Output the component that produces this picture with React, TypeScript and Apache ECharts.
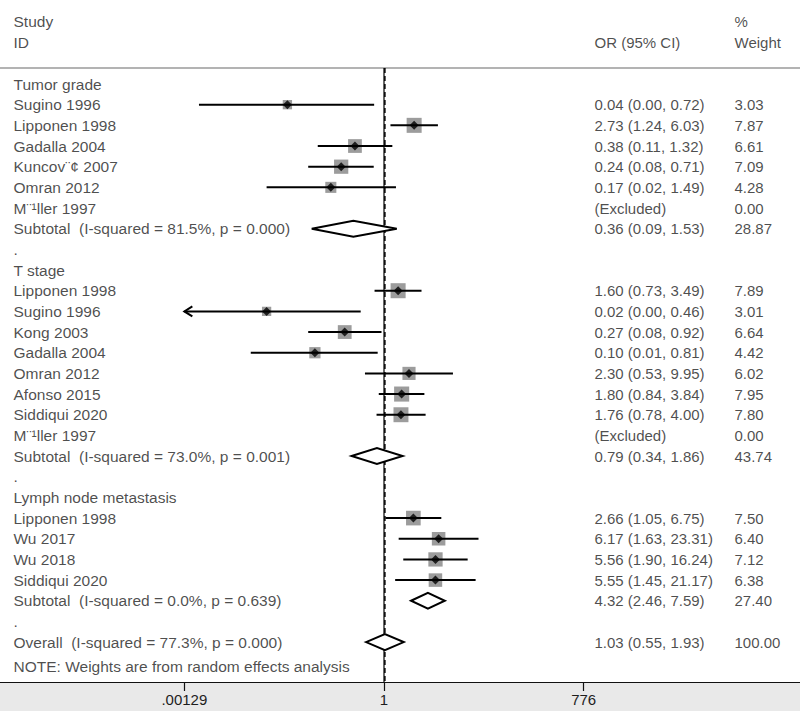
import React, { useEffect, useRef } from "react";
import * as echarts from "echarts";

// ---------- data ----------
const rowLabels: string[] = [
  "Tumor grade",
  "Sugino 1996",
  "Lipponen 1998",
  "Gadalla 2004",
  "Kuncov¨¢ 2007",
  "Omran 2012",
  "M¨¹ller 1997",
  "Subtotal  (I-squared = 81.5%, p = 0.000)",
  ".",
  "T stage",
  "Lipponen 1998",
  "Sugino 1996",
  "Kong 2003",
  "Gadalla 2004",
  "Omran 2012",
  "Afonso 2015",
  "Siddiqui 2020",
  "M¨¹ller 1997",
  "Subtotal  (I-squared = 73.0%, p = 0.001)",
  ".",
  "Lymph node metastasis",
  "Lipponen 1998",
  "Wu 2017",
  "Wu 2018",
  "Siddiqui 2020",
  "Subtotal  (I-squared = 0.0%, p = 0.639)",
  ".",
  "Overall  (I-squared = 77.3%, p = 0.000)",
];
const rowKinds: string[] = [
  "group", "study", "study", "study", "study", "study", "excluded", "pooled", "blank",
  "group", "study", "study", "study", "study", "study", "study", "study", "excluded", "pooled", "blank",
  "group", "study", "study", "study", "study", "pooled", "blank",
  "pooled",
];
const rowOR: (number | null)[] = [
  null, 0.04, 2.73, 0.38, 0.24, 0.17, null, 0.36, null,
  null, 1.6, 0.02, 0.27, 0.1, 2.3, 1.8, 1.76, null, 0.79, null,
  null, 2.66, 6.17, 5.56, 5.55, 4.32, null,
  1.03,
];
const rowLower: (number | null)[] = [
  null, 0.0021, 1.24, 0.11, 0.08, 0.02, null, 0.09, null,
  null, 0.73, 0.0004, 0.08, 0.0118, 0.53, 0.84, 0.78, null, 0.34, null,
  null, 1.05, 1.63, 1.9, 1.45, 2.46, null,
  0.55,
];
const rowUpper: (number | null)[] = [
  null, 0.72, 6.03, 1.32, 0.71, 1.49, null, 1.53, null,
  null, 3.49, 0.46, 0.92, 0.81, 9.95, 3.84, 4.0, null, 1.86, null,
  null, 6.75, 23.31, 16.24, 21.17, 7.59, null,
  1.93,
];
const rowWeight: (number | null)[] = [
  null, 3.03, 7.87, 6.61, 7.09, 4.28, 0.0, 28.87, null,
  null, 7.89, 3.01, 6.64, 4.42, 6.02, 7.95, 7.8, 0.0, 43.74, null,
  null, 7.5, 6.4, 7.12, 6.38, 27.4, null,
  100.0,
];
const overallOR = 1.03;
const tickValues = [0.00129, 1, 776];
const tickLabels = [".00129", "1", "776"];
const headerLeft = ["Study", "ID"];
const headerOR = ["", "OR (95% CI)"];
const headerWeight = ["%", "Weight"];
const noteText = "NOTE: Weights are from random effects analysis";

// ---------- layout ----------
const X_MIN = -5.557;
const X_MAX = 6.02;
const Y_MIN = -4.064;
const Y_MAX = 28.93;
const RULE_ROW = -0.774;
const HEADER_ROWS = [-3, -2];
const NOTE_ROW = 28.16;
const COL_LEFT = 13;
const COL_OR = 594;
const COL_WT = 734;
const FONT = "'Liberation Sans', Arial, Helvetica, sans-serif";
const FS_LEFT = 15.5;
const FS_RIGHT = 15;
const TXT = "#1e1e1e";

const lg = (v: number) => Math.log10(v);
const AX_LO = lg(Math.min(...tickValues));
const AX_HI = lg(Math.max(...tickValues));

export default function App() {
  const ref = useRef<HTMLDivElement>(null);
  useEffect(() => {
    if (!ref.current) return;
    const chart = echarts.init(ref.current, undefined, { renderer: "svg" });

    const squares: any[] = [];
    const points: any[] = [];
    const cis: any[] = [];
    const pooled: any[] = [];
    const texts: any[] = [];

    const addText = (x: number, row: number, s: string) => {
      const fs = x === COL_LEFT ? FS_LEFT : FS_RIGHT;
      texts.push({
        value: [x, row],
        label: { formatter: () => s.replace(/ {2}/g, " \u00a0"), fontSize: fs },
      });
    };

    HEADER_ROWS.forEach((r, i) => {
      addText(COL_LEFT, r, headerLeft[i]);
      if (headerOR[i]) addText(COL_OR, r, headerOR[i]);
      addText(COL_WT, r, headerWeight[i]);
    });
    addText(COL_LEFT, NOTE_ROW, noteText);

    rowLabels.forEach((lab, r) => {
      addText(COL_LEFT, r, lab);
      const k = rowKinds[r];
      const or = rowOR[r];
      const lo = rowLower[r];
      const hi = rowUpper[r];
      const w = rowWeight[r];
      if (k === "excluded") {
        addText(COL_OR, r, "(Excluded)");
        addText(COL_WT, r, (w as number).toFixed(2));
      }
      if ((k === "study" || k === "pooled") && or != null && lo != null && hi != null && w != null) {
        addText(COL_OR, r, `${or.toFixed(2)} (${lo.toFixed(2)}, ${hi.toFixed(2)})`);
        addText(COL_WT, r, w.toFixed(2));
        if (k === "study") {
          squares.push([lg(or), r, w]);
          points.push([lg(or), r]);
          cis.push([lg(lo), lg(hi), r]);
        } else {
          pooled.push([lg(lo), lg(or), lg(hi), r]);
        }
      }
    });

    const option: any = {
      animation: false,
      backgroundColor: "#e9e9e9",
      grid: {
        left: 0,
        right: 0,
        top: 0,
        bottom: 29,
        show: true,
        backgroundColor: "#ffffff",
        borderWidth: 0,
        containLabel: false,
        outerBoundsMode: "none",
      },
      xAxis: [
        {
          type: "value",
          position: "bottom",
          min: X_MIN,
          max: X_MAX,
          axisLine: { show: true, onZero: false, lineStyle: { color: "#111", width: 1.2 } },
          axisTick: {
            show: true,
            customValues: tickValues.map(lg),
            length: 9,
            lineStyle: { color: "#111", width: 1.2 },
          },
          axisLabel: {
            show: true,
            customValues: tickValues.map(lg),
            margin: 10,
            fontSize: FS_RIGHT,
            fontFamily: FONT,
            color: TXT,
            formatter: (v: number) => {
              const i = tickValues.findIndex((t) => Math.abs(lg(t) - v) < 1e-6);
              return i >= 0 ? tickLabels[i] : "";
            },
          },
          splitLine: { show: false },
        },
        {
          type: "value",
          position: "top",
          min: 0,
          max: 800,
          show: false,
        },
      ],
      yAxis: {
        type: "value",
        inverse: true,
        min: Y_MIN,
        max: Y_MAX,
        show: false,
      },
      series: [
        {
          type: "line",
          data: [[X_MIN, RULE_ROW], [X_MAX, RULE_ROW]],
          symbol: "none",
          silent: true,
          lineStyle: { color: "#9a9a9a", width: 1.5 },
        },
        {
          type: "line",
          data: [[0, RULE_ROW], [0, Y_MAX]],
          symbol: "none",
          silent: true,
          lineStyle: { color: "#000", width: 1.2 },
        },
        {
          type: "line",
          data: [[lg(overallOR), RULE_ROW], [lg(overallOR), Y_MAX]],
          symbol: "none",
          silent: true,
          lineStyle: { color: "#000", width: 1.5, type: [5, 3] },
        },
        {
          type: "scatter",
          data: squares,
          symbol: "rect",
          symbolSize: (v: number[]) => 5.35 * Math.sqrt(v[2]),
          itemStyle: { color: "#9c9c9c", opacity: 1 },
          silent: true,
          z: 3,
        },
        {
          type: "custom",
          data: cis,
          clip: false,
          silent: true,
          encode: { x: [0, 1], y: 2 },
          z: 4,
          renderItem: (params: any, api: any) => {
            const lo = api.value(0);
            const hi = api.value(1);
            const row = api.value(2);
            const p1 = api.coord([Math.max(lo, AX_LO), row]);
            const p2 = api.coord([Math.min(hi, AX_HI), row]);
            const children: any[] = [
              {
                type: "line",
                shape: { x1: p1[0], y1: p1[1], x2: p2[0], y2: p2[1] },
                style: { stroke: "#000", lineWidth: 2 },
              },
            ];
            if (lo < AX_LO) {
              children.push({
                type: "polyline",
                shape: { points: [[p1[0] + 8, p1[1] - 5], [p1[0], p1[1]], [p1[0] + 8, p1[1] + 5]] },
                style: { stroke: "#000", lineWidth: 2, fill: "none" },
              });
            }
            if (hi > AX_HI) {
              children.push({
                type: "polyline",
                shape: { points: [[p2[0] - 8, p2[1] - 5], [p2[0], p2[1]], [p2[0] - 8, p2[1] + 5]] },
                style: { stroke: "#000", lineWidth: 2, fill: "none" },
              });
            }
            return { type: "group", children };
          },
        },
        {
          type: "scatter",
          data: points,
          symbol: "diamond",
          symbolSize: 9,
          itemStyle: { color: "#000" },
          silent: true,
          z: 5,
        },
        {
          type: "custom",
          data: pooled,
          clip: false,
          silent: true,
          encode: { x: [0, 1, 2], y: 3 },
          z: 4,
          renderItem: (params: any, api: any) => {
            const row = api.value(3);
            const a = api.coord([api.value(0), row]);
            const b = api.coord([api.value(1), row]);
            const c = api.coord([api.value(2), row]);
            const h = 8;
            return {
              type: "polygon",
              shape: { points: [[a[0], a[1]], [b[0], b[1] - h], [c[0], c[1]], [b[0], b[1] + h]] },
              style: { stroke: "#000", lineWidth: 2, fill: "#fff" },
            };
          },
        },
        {
          type: "scatter",
          xAxisIndex: 1,
          data: texts,
          symbolSize: 1,
          itemStyle: { color: "rgba(0,0,0,0)" },
          silent: true,
          z: 6,
          label: {
            show: true,
            position: "right",
            distance: 0,
            align: "left",
            verticalAlign: "middle",
            fontSize: FS_RIGHT,
            fontFamily: FONT,
            color: TXT,
          },
        },
      ],
    };
    chart.setOption(option);
    return () => chart.dispose();
  }, []);
  return (
    <div
      ref={ref}
      style={{ position: "fixed", left: 0, top: 0, width: 800, height: 711 }}
    />
  );
}
